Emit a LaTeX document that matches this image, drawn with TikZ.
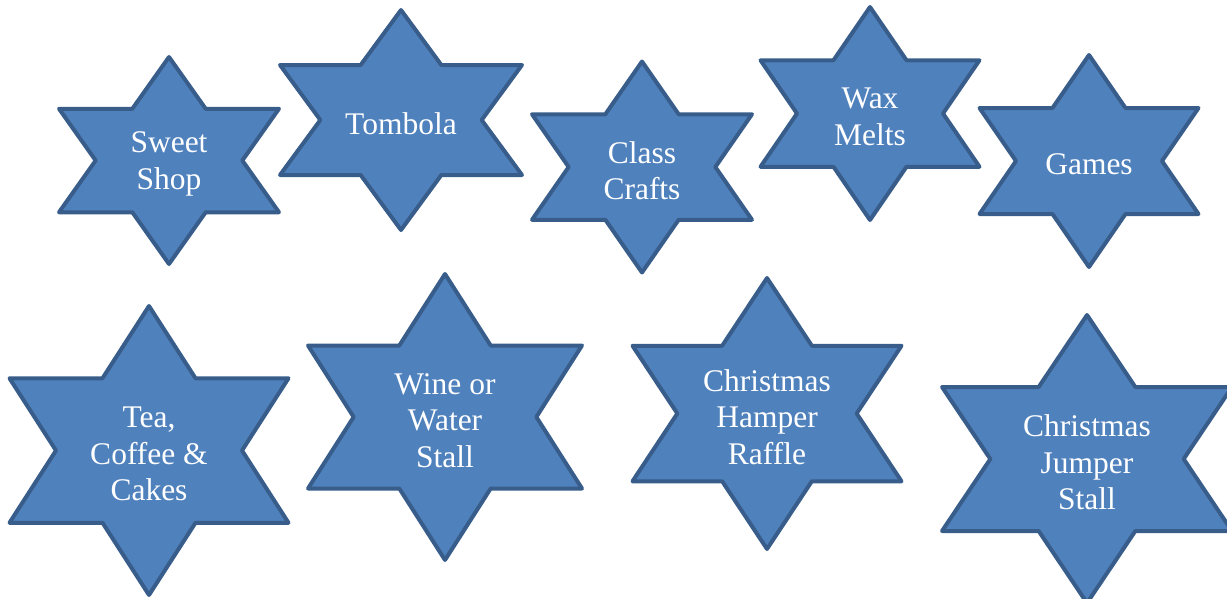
\documentclass[tikz,border=0pt]{standalone}
\usepackage{fontspec}
\setmainfont{Liberation Serif}

\definecolor{starfill}{HTML}{4F81BD}
\definecolor{staredge}{HTML}{385D8A}

\tikzset{
    stall/.style={fill=starfill, draw=staredge, line width=4pt, line join=round},
    stalltext/.style={text=white, align=center, inner sep=0pt,
        font=\fontsize{31.5}{36.5}\selectfont}
}

% six point star: name, x, y, half width, half height, text
\newcommand{\stallstar}[6]{%
    \draw[stall] (#2,#3-#5) -- (#2+#4/3,#3-#5/2) -- (#2+#4,#3-#5/2)
    -- (#2+2*#4/3,#3) -- (#2+#4,#3+#5/2) -- (#2+#4/3,#3+#5/2)
    -- (#2,#3+#5) -- (#2-#4/3,#3+#5/2) -- (#2-#4,#3+#5/2)
    -- (#2-2*#4/3,#3) -- (#2-#4,#3-#5/2) -- (#2-#4/3,#3-#5/2) -- cycle;
    \node[stalltext] (#1) at (#2,#3+3.5) {#6};
}

\begin{document}
\begin{tikzpicture}[x=1pt, y=-1pt]

    \useasboundingbox (0,0) rectangle (1227,598);
    \clip (0,0) rectangle (1227,598);

    % top row
    \stallstar{sweet}{169}{160.5}{110}{103.5}{Sweet\\Shop}
    \stallstar{tombola}{401}{120}{121}{110}{Tombola}
    \stallstar{crafts}{642}{167}{110}{105.5}{Class\\Crafts}
    \stallstar{wax}{870}{113.5}{109.5}{106.5}{Wax\\Melts}
    \stallstar{games}{1089}{161}{109.5}{106}{Games}

    % bottom row
    \stallstar{tea}{149}{450.5}{139.5}{144.5}{Tea,\\Coffee \&\\Cakes}
    \stallstar{wine}{445}{417}{137}{143}{Wine or\\Water\\Stall}
    \stallstar{hamper}{767}{413.5}{134.5}{135.5}{Christmas\\Hamper\\Raffle}
    \stallstar{jumper}{1087}{459}{145}{144}{Christmas\\Jumper\\Stall}

\end{tikzpicture}
\end{document}
